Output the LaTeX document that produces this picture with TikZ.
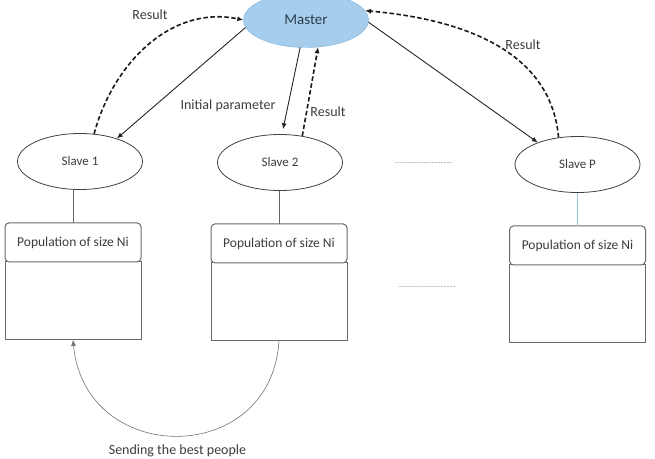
\documentclass[tikz,border=0pt]{standalone}
\usepackage{fontspec}
\setmainfont{Carlito}
\usepackage{xcolor}
\usetikzlibrary{arrows.meta,positioning,shapes.geometric,calc}

\definecolor{masterfill}{RGB}{166,206,236}
\definecolor{masteredge}{RGB}{125,176,216}
\definecolor{mastertext}{RGB}{45,60,80}
\definecolor{ink}{RGB}{60,60,60}
\definecolor{boxline}{RGB}{105,105,105}
\definecolor{paleblue}{RGB}{150,200,230}

\begin{document}
\begin{tikzpicture}[x=1pt, y=1pt,
  master/.style={ellipse, draw=masteredge, fill=masterfill, minimum width=125pt,
                 minimum height=55pt, inner sep=0pt, text=mastertext,
                 font=\fontsize{15}{17}\selectfont},
  slave/.style={ellipse, draw=black!75, line width=0.8pt, minimum width=125pt,
                minimum height=56pt, inner sep=0pt, text=ink,
                font=\fontsize{13}{15}\selectfont},
  head/.style={draw=boxline, line width=1pt, rounded corners=4pt, fill=white,
               minimum width=136pt, minimum height=39pt, inner sep=0pt,
               outer sep=0pt, text=ink, font=\fontsize{13.5}{15}\selectfont},
  body/.style={draw=boxline, line width=1pt, minimum width=136pt,
               minimum height=78pt, outer sep=0pt},
  arr/.style={-{Latex[length=6pt,width=5pt]}, line width=0.9pt, draw=black!85},
  ret/.style={-{Latex[length=6pt,width=5pt]}, line width=1.6pt,
              dash pattern=on 4.5pt off 2.5pt, draw=black!90},
  link/.style={draw=black!60, line width=0.8pt},
  lab/.style={text=ink, font=\fontsize{14}{16}\selectfont},
  gap/.style={text=black!70, font=\fontsize{6}{6}\selectfont, inner sep=0pt}]
\useasboundingbox (0,0) rectangle (655,-458);

\node[master] (master) at (306,-20) {Master};
\node[slave] (slave1) at (80,-161.5) {Slave 1};
\node[slave] (slave2) at (280,-162.5) {Slave 2};
\node[slave] (slaveP) at (577.5,-164.5) {Slave P};

% population boxes under each slave: body first, rounded head on top
\node[body, below=72pt of slave1, xshift=-7pt] (pop1) {};
\node[head, above=0pt of pop1] (head1) {Population of size Ni};
\node[body, below=72pt of slave2, xshift=-1pt] (pop2) {};
\node[head, above=0pt of pop2] (head2) {Population of size Ni};
\node[body, below=72pt of slaveP] (popP) {};
\node[head, above=0pt of popP] (headP) {Population of size Ni};

\node[gap] (dots1) at (424,-163) {......................................};
\node[gap] (dots2) at (427,-287) {......................................};

\draw[link] (head1.north) -- (head1.north |- slave1.south);
\draw[link] (head2.north) -- (head2.north |- slave2.south);
\draw[link, draw=paleblue] (headP.north) -- (headP.north |- slaveP.south);

% master sends parameters, slaves return results
\draw[arr] (master.187) -- (slave1.32);
\draw[ret] (slave1.63) to[out=75, in=168] (master.180);
\draw[arr, shorten >=5pt] (master.258) -- (slave2.86);
\draw[ret] (slave2.50) -- (master.294);
\draw[arr] (master.-2) -- (slaveP.151);
\draw[ret] (slaveP.125) to[out=95, in=-5] (master.9);

\node[lab] (res1) at (150,-15) {Result};
\node[lab] (init) at (228,-106) {Initial parameter};
\node[lab] (res2) at (328,-112) {Result};
\node[lab] (resP) at (523,-45) {Result};

% migration between islands
\draw[-{Latex[length=6pt,width=5pt]}, draw=black!55, line width=0.6pt]
  (pop2.south) .. controls +(-8,-127) and +(12,-127) .. (pop1.south)
  node[pos=0.5, below=9pt, lab, inner sep=0pt] (send) {Sending the best people};
\end{tikzpicture}
\end{document}
